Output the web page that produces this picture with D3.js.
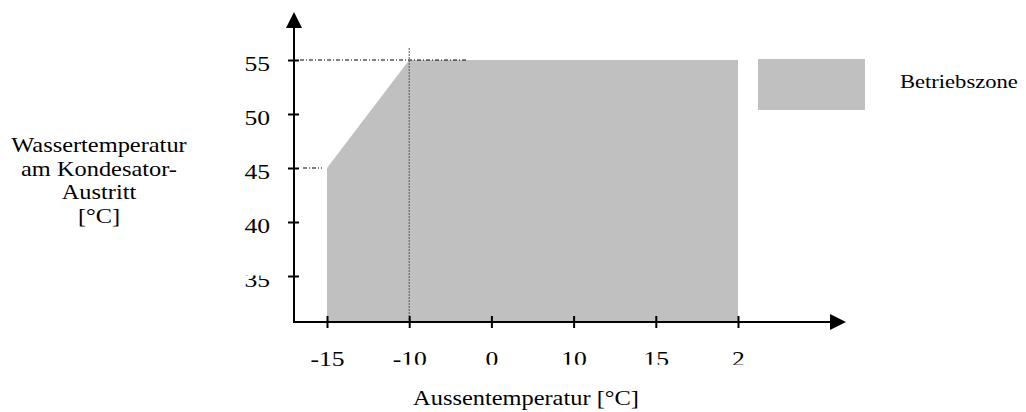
<!DOCTYPE html>
<html>
<head>
<meta charset="utf-8">
<script src="https://cdn.jsdelivr.net/npm/d3@7"></script>
<style>
  body { margin: 0; background: #fff; }
  text { font-family: "Liberation Serif", "Times New Roman", serif; fill: #000; }
</style>
</head>
<body>
<div id="chart"></div>
<script>
// data
var xLabels = ["-15", "-10", "0", "10", "15", "2"];
var yTicks = [35, 40, 45, 50, 55];
var zoneX = ["-15", "-10", "2"];
var zoneTop = [45, 55, 55];
var yTitle = ["Wassertemperatur", "am Kondesator-", "Austritt", "[°C]"];
var xTitle = "Aussentemperatur [°C]";
var legendLabel = "Betriebszone";

var width = 1026, height = 412;
var ox = 294, oy = 322;   // where the two axes meet
var sx = 1.22;            // glyphs in the original are stretched sideways
var zoneColor = "#c0c0c0";

var svg = d3.select("#chart")
  .append("svg")
    .attr("width", width)
    .attr("height", height);

var x = d3.scalePoint()
    .domain(xLabels)
    .range([327, 738]);

var y = d3.scaleLinear()
    .domain([35, 55])
    .range([276, 60]);

// operating zone
var zone = zoneX.map(function(d, i) { return {x: d, v: zoneTop[i]}; });

svg.append("path")
    .datum(zone)
    .attr("fill", zoneColor)
    .attr("d", d3.area()
        .x(function(d) { return x(d.x); })
        .y0(oy)
        .y1(function(d) { return y(d.v); }));

// helper lines
svg.append("line")
    .attr("x1", ox + 6).attr("x2", x("-10") + 58)
    .attr("y1", y(55)).attr("y2", y(55))
    .attr("stroke", "#000").attr("stroke-width", 1)
    .attr("stroke-dasharray", "4,2,1,2");

svg.append("line")
    .attr("x1", ox + 9).attr("x2", x("-15") - 5)
    .attr("y1", y(45)).attr("y2", y(45))
    .attr("stroke", "#000").attr("stroke-width", 1)
    .attr("stroke-dasharray", "4,2,1,2");

svg.append("line")
    .attr("x1", x("-10")).attr("x2", x("-10"))
    .attr("y1", y(55) - 12).attr("y2", oy)
    .attr("stroke", "#555").attr("stroke-width", 1)
    .attr("stroke-dasharray", "2,1");

// axis lines with arrows
svg.append("line")
    .attr("x1", ox).attr("x2", ox)
    .attr("y1", oy + 1).attr("y2", 26)
    .attr("stroke", "#000").attr("stroke-width", 2);
svg.append("path")
    .attr("d", "M" + ox + ",12L" + (ox - 8) + ",28L" + (ox + 8) + ",28Z")
    .attr("fill", "#000");

svg.append("line")
    .attr("x1", ox - 1).attr("x2", 832)
    .attr("y1", oy).attr("y2", oy)
    .attr("stroke", "#000").attr("stroke-width", 2);
svg.append("path")
    .attr("d", "M846," + oy + "L830," + (oy - 8) + "L830," + (oy + 8) + "Z")
    .attr("fill", "#000");

// Y axis
var yAxis = svg.append("g")
    .attr("transform", "translate(" + ox + ",0)")
    .call(d3.axisLeft(y).tickValues(yTicks).tickSize(6).tickPadding(18));
yAxis.select(".domain").remove();
yAxis.selectAll(".tick line")
    .attr("x1", 5).attr("x2", -6)
    .attr("stroke", "#000").attr("stroke-width", 2);
yAxis.selectAll(".tick text")
    .attr("x", -24 / sx)
    .attr("y", 10)
    .attr("dy", null)
    .attr("transform", "scale(" + sx + ",1)")
    .attr("font-size", 21)
    .attr("font-family", null);

// top of the 35 is cut off in the original
var t35 = yAxis.selectAll(".tick").filter(function(d) { return d === 35; });
t35.append("clipPath").attr("id", "clip-35")
  .append("rect").attr("x", -100).attr("y", -1).attr("width", 200).attr("height", 40);
t35.select("text").attr("clip-path", "url(#clip-35)");

// X axis
var xAxis = svg.append("g")
    .attr("transform", "translate(0," + oy + ")")
    .call(d3.axisBottom(x).tickSize(6).tickPadding(38));
xAxis.select(".domain").remove();
xAxis.selectAll(".tick line")
    .attr("y1", -6).attr("y2", 6)
    .attr("stroke", "#000").attr("stroke-width", 2);
xAxis.selectAll(".tick text")
    .attr("y", 44)
    .attr("dy", null)
    .attr("transform", "scale(" + sx + ",1)")
    .attr("font-size", 21)
    .attr("font-family", null);

// bottoms of the labels (all but the first) are cut off in the original
xAxis.append("clipPath").attr("id", "clip-x")
  .append("rect").attr("x", -100).attr("y", -10).attr("width", 200).attr("height", 52.8);
xAxis.selectAll(".tick text")
    .filter(function(d, i) { return i > 0; })
    .attr("clip-path", "url(#clip-x)");

// axis titles
var yt = svg.append("g").attr("transform", "translate(99,0) scale(" + sx + ",1)");
yt.selectAll("text")
    .data(yTitle)
    .enter().append("text")
      .attr("x", 0)
      .attr("y", function(d, i) { return 152 + i * 23.7; })
      .attr("text-anchor", "middle")
      .attr("font-size", 20)
      .text(function(d) { return d; });

svg.append("text")
    .attr("transform", "translate(526,405) scale(" + sx + ",1)")
    .attr("text-anchor", "middle")
    .attr("font-size", 20)
    .text(xTitle);

// legend
svg.append("rect")
    .attr("x", 758).attr("y", 59)
    .attr("width", 107).attr("height", 51)
    .attr("fill", zoneColor);
svg.append("text")
    .attr("transform", "translate(900,88) scale(" + sx + ",1)")
    .attr("font-size", 18.5)
    .text(legendLabel);
</script>
</body>
</html>
